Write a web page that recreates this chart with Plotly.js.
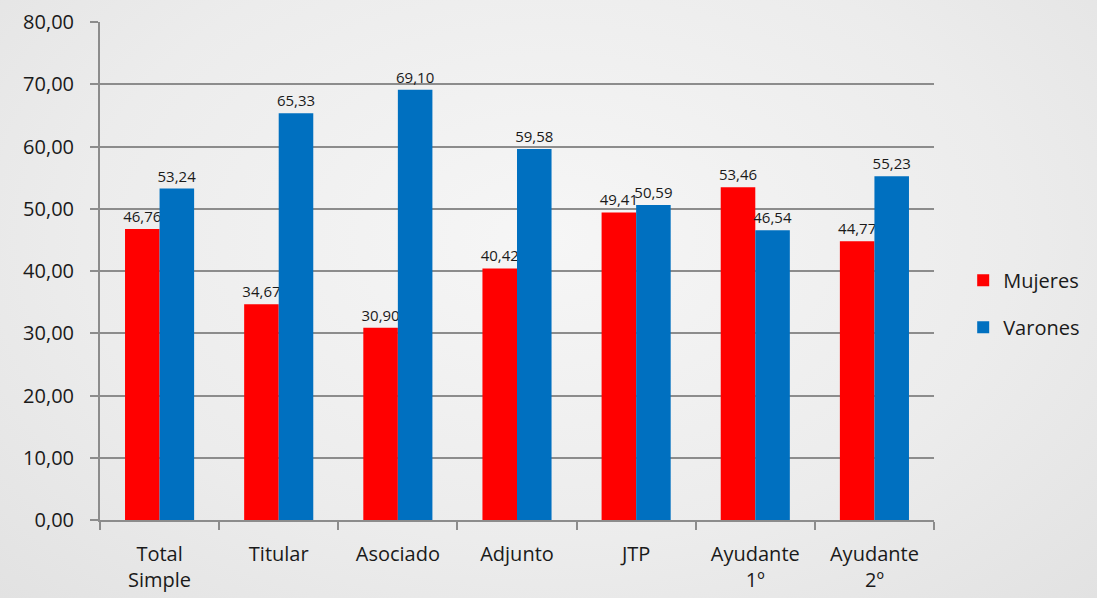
<!DOCTYPE html>
<html>
<head>
<meta charset="utf-8">
<script src="https://cdn.plot.ly/plotly-3.0.1.min.js"></script>
<style>
html,body{margin:0;padding:0;}
body{width:1097px;height:598px;background:radial-gradient(ellipse at 50% 40%, #f6f6f6 0%, #ececec 60%, #e2e2e2 100%);}
#chart{width:1097px;height:598px;}
</style>
</head>
<body>
<div id="chart"></div>
<script>
const categories = ["Total<br>Simple", "Titular", "Asociado", "Adjunto", "JTP", "Ayudante<br>1º", "Ayudante<br>2º"];
const mujeres = [46.76, 34.67, 30.90, 40.42, 49.41, 53.46, 44.77];
const varones = [53.24, 65.33, 69.10, 59.58, 50.59, 46.54, 55.23];
const yTicks = [0, 10, 20, 30, 40, 50, 60, 70, 80];

const fontFam = "Open Sans, sans-serif";
const traces = [
  {type:'bar', name:'Mujeres', legendgroup:'m', x:categories, y:mujeres, marker:{color:'#ff0000'},
   texttemplate:'%{y:.2f}', textposition:'outside', cliponaxis:false, constraintext:'none',
   textfont:{family:fontFam, size:15, color:'#1a1a1a'}},
  {type:'bar', name:'Varones', legendgroup:'v', x:categories, y:varones, marker:{color:'#0070c0'},
   texttemplate:'%{y:.2f}', textposition:'outside', cliponaxis:false, constraintext:'none',
   textfont:{family:fontFam, size:15, color:'#1a1a1a'}}
];
const layout = {
  width:1097, height:598,
  paper_bgcolor:'rgba(0,0,0,0)', plot_bgcolor:'rgba(0,0,0,0)',
  separators:',.',
  margin:{l:100, r:154, t:22, b:78},
  barmode:'group', bargap:0.42, bargroupgap:0,
  font:{family:fontFam, size:20, color:'#1a1a1a'},
  xaxis:{type:'category', showline:true, linecolor:'#8c8c8c', linewidth:2,
    ticks:'outside', tickson:'boundaries', ticklen:8, tickcolor:'#8c8c8c', tickwidth:2,
    ticklabelstandoff:15,
    showgrid:false, tickfont:{size:20}},
  yaxis:{range:[0,80], tickvals:yTicks, tickformat:'.2f', showline:true, linecolor:'#8c8c8c', linewidth:2,
    ticks:'outside', ticklen:8, tickcolor:'#8c8c8c', tickwidth:2, ticklabelstandoff:12,
    showgrid:true, gridcolor:'#8c8c8c', gridwidth:2, zeroline:false, tickfont:{size:20}},
  showlegend:true,
  legend:{x:1.035, y:0.434, xanchor:'left', yanchor:'middle', bgcolor:'rgba(0,0,0,0)',
    font:{size:20}, tracegroupgap:18, itemwidth:30},
};
Plotly.newPlot('chart', traces, layout, {displayModeBar:false, staticPlot:true});
</script>
</body>
</html>
